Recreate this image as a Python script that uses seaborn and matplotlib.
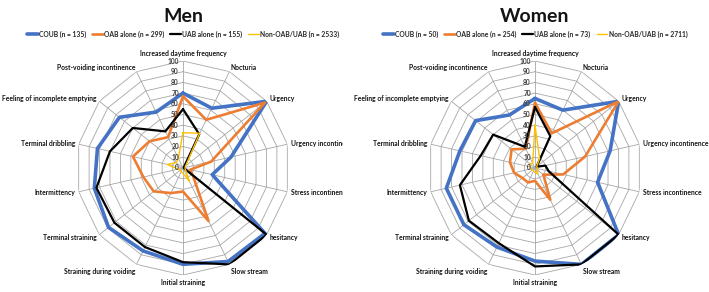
import numpy as np
import matplotlib.pyplot as plt
import seaborn as sns
from matplotlib.lines import Line2D
from matplotlib.transforms import Bbox, TransformedBbox, offset_copy

sns.set_theme(style="white")
plt.rcParams['font.family'] = ['Lato', 'DejaVu Sans']

# symptoms, clockwise from the top
categories = ["Increased daytime frequency", "Nocturia", "Urgency",
              "Urgency incontinence", "Stress incontinence", "hesitancy",
              "Slow stream", "Initial straining", "Straining during voiding",
              "Terminal straining", "Intermittency", "Terminal dribbling",
              "Feeling of incomplete emptying", "Post-voiding incontinence"]

series_names = ["COUB", "OAB alone", "UAB alone", "Non-OAB/UAB"]

# Men (%)
men_n = [135, 299, 155, 2533]
men_coub = [70, 62, 100, 46, 28, 98, 97, 90, 86, 89, 85, 82, 76, 58]
men_oab = [67, 50, 98, 27, 7, 12, 55, 22, 26, 35, 38, 48, 40, 32]
men_uab = [55, 35, 1, 1, 1, 100, 100, 88, 82, 82, 83, 70, 60, 38]
men_non = [33, 36, 3, 2, 2, 3, 14, 5, 4, 3, 5, 15, 8, 10]

# Women (%)
women_n = [50, 254, 73, 2711]
women_coub = [65, 60, 100, 72, 60, 100, 100, 87, 82, 85, 85, 72, 71, 55]
women_oab = [61, 36, 100, 48, 27, 10, 33, 12, 15, 15, 20, 24, 28, 20]
women_uab = [57, 33, 2, 10, 13, 100, 100, 92, 78, 79, 72, 52, 50, 22]
women_non = [40, 10, 2, 2, 3, 3, 6, 4, 3, 3, 4, 5, 6, 5]

levels = list(range(0, 101, 10))

colors = ["#4472C4", "#ED7D31", "#000000", "#FFC000"]
widths = [2.6, 1.9, 1.6, 1.0]

W, H = 709, 292
fig = plt.figure(figsize=(W / 100, H / 100), dpi=100)

panels = [
    ("Men", men_n, [men_coub, men_oab, men_uab, men_non], (183, 168), (0, 343)),
    ("Women", women_n, [women_coub, women_oab, women_uab, women_non], (535, 168), (349, 709)),
]
R = 107

angles = np.linspace(0, 2 * np.pi, len(categories), endpoint=False)
closed = np.append(angles, angles[0])

for title, ns, vals, (cx, cy), (x0, x1) in panels:
    ax = fig.add_axes([(cx - R) / W, (H - cy - R) / H, 2 * R / W, 2 * R / H],
                      projection="polar")
    ax.set_theta_zero_location("N")
    ax.set_theta_direction(-1)
    ax.grid(False)
    ax.spines["polar"].set_visible(False)
    ax.patch.set_alpha(0)

    # polygon grid + spokes
    for lvl in levels[1:]:
        ax.plot(closed, [lvl] * len(closed), color="#a6a6a6", lw=0.6, zorder=1)
    for a in angles:
        ax.plot([a, a], [0, 100], color="#a6a6a6", lw=0.6, zorder=1)

    for v, c, w in zip(vals, colors, widths):
        sns.lineplot(x=closed, y=np.append(v, v[0]), ax=ax, color=c, lw=w,
                     sort=False, estimator=None, zorder=3)

    ax.set_ylim(0, 100)
    ax.set_xticks([])
    ax.set_yticks([])
    ax.set_xlabel("")
    ax.set_ylabel("")

    # radial tick labels
    tr = offset_copy(ax.transData, fig=fig, x=-3, y=0, units="points")
    for lvl in levels:
        ax.text(0, lvl, str(lvl), transform=tr, ha="right", va="center",
                fontsize=4.8, fontweight="bold", color="#404040", zorder=4)

    clip = TransformedBbox(Bbox([[x0 / W, 0], [x1 / W, 1]]), fig.transFigure)
    for a, cat in zip(angles, categories):
        s, c = np.sin(a), np.cos(a)
        ha = "center" if abs(s) < 0.1 else ("left" if s > 0 else "right")
        va = "bottom" if c > 0.95 else ("top" if c < -0.8 else "center")
        t = ax.text(a, 100, cat, ha=ha, va=va, fontsize=4.9, fontweight="bold",
                    color="#141414",
                    transform=offset_copy(ax.transData, fig=fig, x=2.5 * s, y=3 * c,
                                          units="points"))
        t.set_clip_path(None)
        t.set_clip_box(clip)
        t.set_clip_on(True)

    fig.text(cx / W, 1 - 16 / H, title, ha="center", va="center",
             fontsize=14, fontweight="bold", color="#141414")

    handles = [Line2D([], [], color=c, lw=w) for c, w in zip(colors, widths)]
    labels = [f"{nm} (n = {n})" for nm, n in zip(series_names, ns)]
    fig.legend(handles, labels, loc="center", bbox_to_anchor=(cx / W, 1 - 34 / H),
               ncol=4, frameon=False, prop={"size": 4.9, "weight": "bold"},
               handlelength=1.6, handletextpad=0.15, columnspacing=0.9)

fig.savefig("out.png", dpi=100)
